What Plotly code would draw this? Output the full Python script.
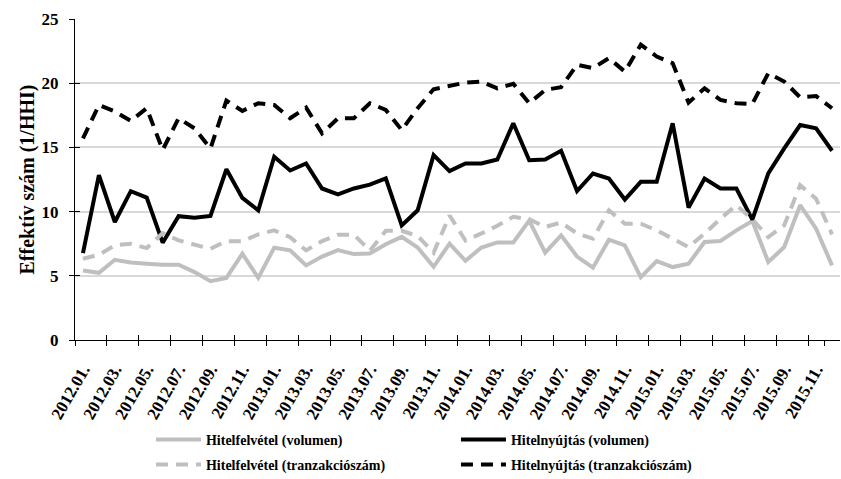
import plotly.graph_objects as go

months = [f"{y}.{m:02d}." for y in range(2012, 2016) for m in range(1, 13)]

hitelfelvetel_volumen = [5.42, 5.23, 6.25, 6.04, 5.94, 5.86, 5.86, 5.29, 4.58, 4.84, 6.72, 4.84,
                         7.19, 6.98, 5.81, 6.50, 7.00, 6.69, 6.73, 7.46, 8.03, 7.20, 5.70, 7.50,
                         6.17, 7.20, 7.60, 7.60, 9.30, 6.80, 8.15, 6.50, 5.63, 7.81, 7.37, 4.90,
                         6.15, 5.68, 5.94, 7.63, 7.71, 8.54, 9.27, 6.07, 7.24, 10.50, 8.67, 5.81]
hitelfelvetel_tranz = [6.33, 6.64, 7.37, 7.50, 7.16, 8.33, 7.76, 7.45, 7.10, 7.70, 7.70, 8.23,
                       8.54, 8.00, 6.98, 7.70, 8.20, 8.20, 6.95, 8.50, 8.50, 8.10, 6.80, 9.70,
                       7.75, 8.30, 8.90, 9.60, 9.40, 8.80, 9.15, 8.30, 7.89, 10.10, 9.06, 9.06,
                       8.54, 7.89, 7.24, 8.28, 9.45, 10.50, 9.40, 8.02, 8.93, 12.06, 11.00, 8.23]
hitelnyujtas_volumen = [6.77, 12.84, 9.19, 11.59, 11.09, 7.58, 9.64, 9.53, 9.66, 13.30, 11.07, 10.10,
                        14.27, 13.20, 13.75, 11.80, 11.35, 11.80, 12.10, 12.58, 8.93, 10.10, 14.40, 13.15,
                        13.75, 13.75, 14.06, 16.88, 14.00, 14.06, 14.74, 11.60, 12.97, 12.58, 10.94, 12.32,
                        12.32, 16.88, 10.31, 12.58, 11.80, 11.80, 9.38, 12.97, 14.92, 16.74, 16.48, 14.74]
hitelnyujtas_tranz = [15.70, 18.30, 17.80, 17.06, 18.05, 14.80, 17.27, 16.48, 14.92, 18.65, 17.84, 18.44,
                      18.30, 17.27, 18.10, 16.10, 17.27, 17.27, 18.44, 17.92, 16.35, 18.05, 19.53, 19.80,
                      20.05, 20.13, 19.60, 19.95, 18.44, 19.48, 19.69, 21.43, 21.17, 21.95, 20.90, 23.00,
                      22.08, 21.56, 18.49, 19.60, 18.70, 18.44, 18.39, 20.78, 20.13, 18.90, 19.00, 18.05]

y_ticks = [0, 5, 10, 15, 20, 25]

series = [
    ("Hitelfelvétel (volumen)", hitelfelvetel_volumen, "#bfbfbf", "solid", "legend"),
    ("Hitelnyújtás (volumen)", hitelnyujtas_volumen, "#000000", "solid", "legend"),
    ("Hitelfelvétel (tranzakciószám)", hitelfelvetel_tranz, "#bfbfbf", "12px,8px", "legend2"),
    ("Hitelnyújtás (tranzakciószám)", hitelnyujtas_tranz, "#000000", "12px,8px", "legend2"),
]

FONT = "Liberation Serif"
fig = go.Figure()
for name, vals, color, dash, leg in series:
    fig.add_trace(go.Scatter(x=months, y=vals, name=f"<b>{name}</b>", mode="lines",
                             legend=leg, line=dict(color=color, width=4, dash=dash)))

# empty helper trace so the overlay axes (crossing tick marks) are drawn
fig.add_trace(go.Scatter(x=[None], y=[None], xaxis="x2", yaxis="y2", showlegend=False,
                         hoverinfo="skip", mode="lines"))

leg_common = dict(orientation="h", xref="container", yref="container",
                  xanchor="left", yanchor="middle",
                  entrywidth=245, entrywidthmode="pixels", itemwidth=45,
                  font=dict(family=FONT, size=14, color="black"),
                  traceorder="normal", bgcolor="rgba(0,0,0,0)")

fig.update_layout(
    width=841, height=479,
    margin=dict(l=75, r=1, t=19, b=139, autoexpand=False),
    plot_bgcolor="white", paper_bgcolor="white",
    font=dict(family=FONT, size=16, color="black"),
    showlegend=True,
    legend=dict(leg_common, x=0.1795, y=1 - 440 / 479),
    legend2=dict(leg_common, x=0.1795, y=1 - 465 / 479),
    xaxis=dict(type="category", categoryorder="array", categoryarray=months,
               range=[-0.5, 47.5], tickmode="array", tickvals=months[::2],
               ticktext=[f"<b>{m}</b>" for m in months[::2]],
               tickson="boundaries", ticks="outside", ticklen=5, tickcolor="black",
               showline=True, linecolor="black", linewidth=1, showgrid=False,
               tickangle=-60, ticklabelstandoff=12, automargin=False,
               tickfont=dict(family=FONT, size=17)),
    xaxis2=dict(overlaying="x", anchor="y2", range=[-0.5, 47.5], tickmode="array",
                tickvals=[i - 0.5 for i in range(0, 48, 2)], ticks="inside", ticklen=5,
                tickcolor="black", showticklabels=False, showgrid=False, showline=False,
                zeroline=False, side="bottom", automargin=False),
    yaxis=dict(range=[0, 25], tickvals=y_ticks,
               ticktext=[f"<b>{v}</b>" for v in y_ticks],
               ticks="outside", ticklen=5, ticklabelstandoff=7, automargin=False,
               tickcolor="black", showline=True, linecolor="black", linewidth=1,
               showgrid=True, gridcolor="#d9d9d9", gridwidth=1.5, zeroline=False,
               tickfont=dict(family=FONT, size=17),
               title=dict(text="<b>Effektív szám (1/HHI)</b>", standoff=1,
                          font=dict(family=FONT, size=20))),
    yaxis2=dict(overlaying="y", anchor="x2", side="left", range=[0, 25],
                tickvals=y_ticks, ticks="inside", ticklen=5, tickcolor="black",
                showticklabels=False, showgrid=False, showline=False, zeroline=False,
                automargin=False),
)

fig.write_html("out.html", config={"displayModeBar": False},
               post_script="document.body.style.margin='0';document.body.style.overflow='hidden';")
